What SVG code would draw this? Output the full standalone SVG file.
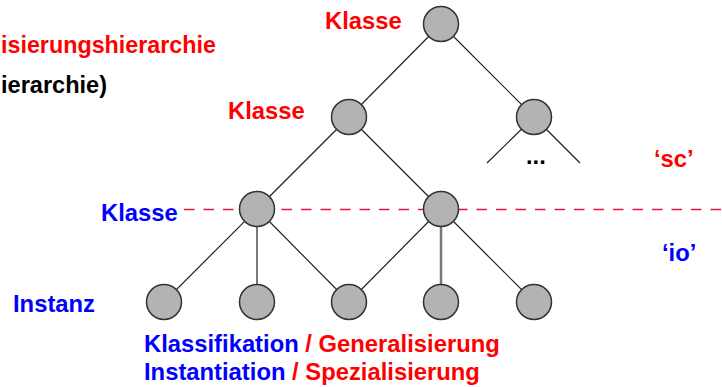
<svg xmlns="http://www.w3.org/2000/svg" width="722" height="387" viewBox="0 0 722 387">
<style>
text{font-family:"Liberation Sans",Arial,sans-serif;font-weight:bold;font-size:23.8px}
.r{fill:#ff0000}.b{fill:#0000ff}.k{fill:#000}
.n{fill:#b3b3b3;stroke:#333;stroke-width:1.5}
.e{stroke:#222;stroke-width:1.2;fill:none}
</style>
<rect width="722" height="387" fill="#fff"/>
<text class="r" x="1" y="53" textLength="215" lengthAdjust="spacingAndGlyphs">isierungshierarchie</text>
<text class="k" x="1" y="93" textLength="106" lengthAdjust="spacingAndGlyphs">ierarchie)</text>
<text class="r" x="325" y="29">Klasse</text>
<text class="r" x="228" y="119">Klasse</text>
<text class="b" x="101" y="221">Klasse</text>
<text class="b" x="13" y="312">Instanz</text>
<text class="k" x="526" y="164">...</text>
<text class="r" x="654" y="167">‘sc’</text>
<text class="b" x="662" y="261">‘io’</text>
<text x="144" y="352"><tspan class="b">Klassifikation</tspan><tspan class="r"> / Generalisierung</tspan></text>
<text x="144" y="380"><tspan class="b">Instantiation</tspan><tspan class="r"> / Spezialisierung</tspan></text>
<line x1="184" y1="209.5" x2="722" y2="209.5" stroke="#e4163c" stroke-width="1.3" stroke-dasharray="10.5,9"/>
<g id="connectors">
<line class="e" x1="441" y1="24" x2="349" y2="117"/>
<line class="e" x1="441" y1="24" x2="534" y2="117"/>
<line class="e" x1="534" y1="117" x2="487" y2="163"/>
<line class="e" x1="534" y1="117" x2="580" y2="163"/>
<line class="e" x1="349" y1="117" x2="257" y2="209"/>
<line class="e" x1="349" y1="117" x2="441" y2="209"/>
<line class="e" x1="257" y1="209" x2="164" y2="302"/>
<line class="e" x1="257" y1="209" x2="257" y2="302" stroke="#333" stroke-width="1.5"/>
<line class="e" x1="257" y1="209" x2="349" y2="302"/>
<line class="e" x1="441" y1="209" x2="349" y2="302"/>
<line x1="441" y1="209" x2="441" y2="302" stroke="#777" stroke-width="2.5"/>
<line class="e" x1="441" y1="209" x2="534" y2="302"/>
</g>
<g id="n1"><circle class="n" cx="441" cy="24" r="17.5"/></g>
<g id="n2"><circle class="n" cx="349" cy="117" r="17.5"/></g>
<g id="n3"><circle class="n" cx="534" cy="117" r="17.5"/></g>
<g id="n4"><circle class="n" cx="257" cy="209" r="17.5"/></g>
<g id="n5"><circle class="n" cx="441" cy="209" r="17.5"/></g>
<g id="n6"><circle class="n" cx="164" cy="302" r="17.5"/></g>
<g id="n7"><circle class="n" cx="257" cy="302" r="17.5"/></g>
<g id="n8"><circle class="n" cx="349" cy="302" r="17.5"/></g>
<g id="n9"><circle class="n" cx="441" cy="302" r="17.5"/></g>
<g id="n10"><circle class="n" cx="534" cy="302" r="17.5"/></g>
</svg>
